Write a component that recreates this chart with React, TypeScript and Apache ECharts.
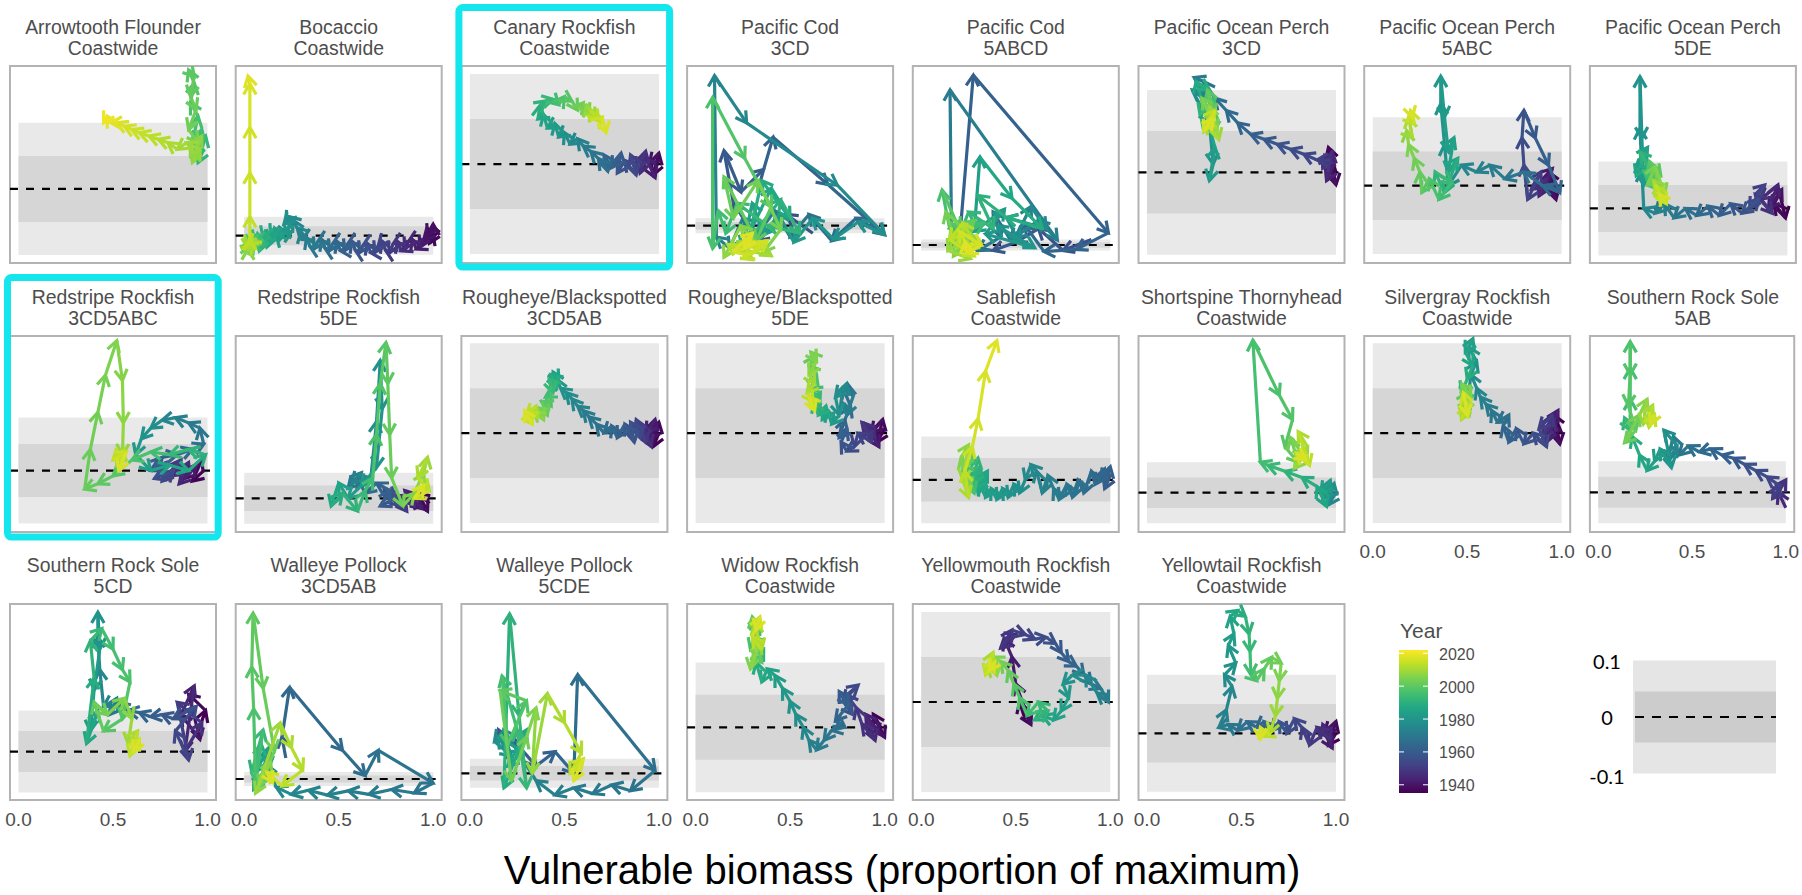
import React, { useEffect, useRef } from "react";
import * as echarts from "echarts";

// [year, vulnerable biomass (proportion of maximum), y-index]
type Obs = [number, number, number];

const arrowtoothCoastwide: Obs[] = [
  [1991, 0.98, 0.06], [1992, 0.95, 0.04], [1993, 0.99, 0.08], [1994, 0.93, 0.05], [1995, 0.97, 0.09],
  [1996, 0.92, 0.07], [1997, 0.95, 0.11], [1998, 0.91, 0.13], [1999, 0.93, 0.16], [2000, 0.9, 0.18],
  [2001, 0.93, 0.17], [2002, 0.91, 0.14], [2003, 0.94, 0.12], [2004, 0.9, 0.09], [2005, 0.95, 0.07],
  [2006, 0.91, 0.05], [2007, 0.97, 0.08], [2008, 0.92, 0.04], [2009, 0.96, 0.06], [2010, 0.89, 0.07],
  [2011, 0.84, 0.06], [2012, 0.79, 0.07], [2013, 0.74, 0.075], [2014, 0.69, 0.08], [2015, 0.64, 0.085],
  [2016, 0.6, 0.09], [2017, 0.56, 0.095], [2018, 0.52, 0.1], [2019, 0.49, 0.1], [2020, 0.47, 0.11],
  [2021, 0.45, 0.1],
];

const bocaccioCoastwide: Obs[] = [
  [1935, 1.0, 0.03], [1936, 0.99, -0.02], [1937, 0.98, -0.04], [1938, 1.0, 0.01], [1939, 1.0, 0.06],
  [1940, 0.97, 0.0], [1941, 0.95, -0.02], [1942, 0.93, -0.06], [1943, 0.91, -0.07], [1944, 0.89, -0.02],
  [1945, 0.87, -0.03], [1946, 0.85, -0.07], [1947, 0.83, -0.08], [1948, 0.81, -0.03], [1949, 0.79, -0.04],
  [1950, 0.77, -0.09], [1951, 0.75, -0.08], [1952, 0.73, -0.03], [1953, 0.71, -0.05], [1954, 0.69, -0.09],
  [1955, 0.67, -0.09], [1956, 0.65, -0.04], [1957, 0.63, -0.05], [1958, 0.61, -0.09], [1959, 0.59, -0.08],
  [1960, 0.57, -0.03], [1961, 0.55, -0.04], [1962, 0.53, -0.08], [1963, 0.51, -0.08], [1964, 0.49, -0.03],
  [1965, 0.47, -0.04], [1966, 0.45, -0.08], [1967, 0.43, -0.07], [1968, 0.41, -0.02], [1969, 0.39, -0.03],
  [1970, 0.37, -0.07], [1971, 0.35, -0.06], [1972, 0.33, -0.01], [1973, 0.31, -0.02], [1974, 0.3, 0.02],
  [1975, 0.28, 0.04], [1976, 0.26, 0.08], [1977, 0.24, 0.1], [1978, 0.22, 0.07], [1979, 0.21, 0.06],
  [1980, 0.23, 0.01], [1981, 0.25, 0.02], [1982, 0.2, 0.03], [1983, 0.19, -0.02], [1984, 0.17, 0.0],
  [1985, 0.16, 0.04], [1986, 0.14, 0.0], [1987, 0.13, -0.03], [1988, 0.12, -0.06], [1989, 0.11, 0.02],
  [1990, 0.1, -0.01], [1991, 0.09, -0.05], [1992, 0.08, -0.08], [1993, 0.07, 0.01], [1994, 0.06, -0.03],
  [1995, 0.05, -0.06], [1996, 0.05, -0.02], [1997, 0.04, -0.01], [1998, 0.04, -0.05], [1999, 0.03, -0.07],
  [2000, 0.05, -0.04], [2001, 0.06, -0.03], [2002, 0.03, -0.06], [2003, 0.02, -0.08], [2004, 0.03, -0.05],
  [2005, 0.04, -0.04], [2006, 0.02, -0.08], [2007, 0.02, -0.07], [2008, 0.04, -0.03], [2009, 0.03, -0.02],
  [2010, 0.02, -0.06], [2011, 0.02, -0.07], [2012, 0.04, -0.04], [2013, 0.03, -0.05], [2014, 0.03, -0.02],
  [2015, 0.03, 0.1], [2016, 0.03, 0.33], [2017, 0.03, 0.57], [2018, 0.03, 0.8], [2019, 0.02, 0.84],
];

const canaryCoastwide: Obs[] = [
  [1935, 1.0, 0.005], [1937, 0.97, -0.012], [1939, 1.0, 0.012], [1941, 0.95, 0.0], [1943, 0.98, -0.015],
  [1945, 0.93, 0.008], [1947, 0.9, -0.01], [1949, 0.93, 0.014], [1951, 0.88, -0.005], [1953, 0.85, 0.01],
  [1955, 0.88, -0.012], [1957, 0.82, 0.004], [1959, 0.78, -0.01], [1961, 0.8, 0.012], [1963, 0.75, -0.004],
  [1965, 0.71, 0.01], [1967, 0.73, -0.008], [1969, 0.68, 0.006], [1971, 0.64, 0.014], [1973, 0.6, 0.02],
  [1975, 0.57, 0.028], [1977, 0.53, 0.022], [1979, 0.5, 0.035], [1981, 0.47, 0.03], [1983, 0.45, 0.045],
  [1985, 0.41, 0.04], [1987, 0.39, 0.055], [1989, 0.36, 0.05], [1991, 0.37, 0.065], [1993, 0.4, 0.07],
  [1995, 0.44, 0.072], [1997, 0.47, 0.066], [1999, 0.5, 0.075], [2001, 0.54, 0.07], [2003, 0.57, 0.06],
  [2005, 0.6, 0.068], [2007, 0.63, 0.055], [2009, 0.62, 0.065], [2011, 0.66, 0.05], [2013, 0.64, 0.06],
  [2015, 0.68, 0.048], [2017, 0.7, 0.052], [2019, 0.72, 0.035],
];

const pacificCod3CD: Obs[] = [
  [1956, 0.62, -0.1], [1957, 0.48, 0.15], [1958, 0.33, -0.2], [1959, 0.2, 0.3], [1960, 0.15, 1.0],
  [1961, 0.24, 0.45], [1962, 0.36, 0.75], [1963, 0.41, 1.18], [1964, 0.7, 0.55], [1965, 1.0, -0.12],
  [1966, 0.85, 0.1], [1967, 0.72, -0.2], [1968, 0.6, 0.15], [1969, 0.5, -0.15], [1970, 0.42, 0.2],
  [1971, 0.33, -0.1], [1972, 0.25, 0.1], [1973, 0.18, -0.3], [1974, 0.11, -0.15], [1975, 0.1, 2.0],
  [1976, 0.27, 1.37], [1977, 0.75, 0.54], [1978, 1.0, -0.12], [1979, 0.86, 0.05], [1980, 0.73, -0.18],
  [1981, 0.62, 0.1], [1982, 0.52, -0.22], [1983, 0.44, 0.15], [1984, 0.36, -0.12], [1985, 0.3, 0.3],
  [1986, 0.25, -0.28], [1987, 0.4, 0.5], [1988, 0.5, 0.1], [1989, 0.35, 0.6], [1990, 0.28, -0.2],
  [1991, 0.45, 0.35], [1992, 0.55, -0.1], [1993, 0.38, 0.0], [1994, 0.22, 0.3], [1995, 0.16, -0.1],
  [1996, 0.12, 0.2], [1997, 0.09, -0.3], [1998, 0.09, 1.71], [1999, 0.26, 0.9], [2000, 0.4, 0.25],
  [2001, 0.32, -0.2], [2002, 0.15, 0.65], [2003, 0.2, 0.1], [2004, 0.33, 0.6], [2005, 0.45, -0.05],
  [2006, 0.36, -0.35], [2007, 0.24, 0.0], [2008, 0.15, -0.42], [2009, 0.28, -0.2], [2010, 0.4, -0.4],
  [2011, 0.22, -0.3], [2012, 0.3, -0.45], [2013, 0.17, -0.25], [2014, 0.35, -0.3], [2015, 0.25, -0.44],
  [2016, 0.38, -0.2], [2017, 0.2, -0.35], [2018, 0.3, -0.1], [2019, 0.26, -0.3],
];

const pacificCod5ABCD: Obs[] = [
  [1956, 0.9, 0.1], [1957, 0.75, -0.1], [1958, 0.62, 0.3], [1959, 0.5, 0.05], [1960, 0.38, -0.1],
  [1961, 0.2, 0.0], [1962, 0.275, 3.09], [1963, 0.99, 0.22], [1964, 0.82, -0.08], [1965, 0.65, -0.12],
  [1966, 0.55, 0.35], [1967, 0.47, 0.1], [1968, 0.38, 0.6], [1969, 0.42, 0.15], [1970, 0.3, -0.1],
  [1971, 0.16, 0.1], [1972, 0.152, 2.82], [1973, 0.72, 0.09], [1974, 0.62, 0.45], [1975, 0.5, 0.15],
  [1976, 0.58, 0.7], [1977, 0.66, 0.3], [1978, 0.45, 0.5], [1979, 0.52, 0.05], [1980, 0.4, 0.35],
  [1981, 0.6, -0.05], [1982, 0.34, 0.2], [1983, 0.44, 0.65], [1984, 0.28, 0.25], [1987, 0.31, 1.6],
  [1988, 0.48, 0.85], [1989, 0.64, 0.3], [1990, 0.45, 0.5], [1991, 0.3, 0.9], [1992, 0.38, 0.3],
  [1993, 0.25, 0.6], [1994, 0.2, 0.15], [1995, 0.33, 0.4], [1996, 0.15, 0.3], [1999, 0.11, 1.0],
  [2000, 0.2, 0.3], [2001, 0.15, 0.05], [2002, 0.28, 0.45], [2003, 0.2, -0.15], [2004, 0.13, 0.6],
  [2005, 0.25, 0.2], [2006, 0.17, -0.2], [2007, 0.3, 0.1], [2008, 0.21, 0.35], [2009, 0.14, -0.1],
  [2010, 0.26, -0.25], [2011, 0.19, 0.15], [2012, 0.3, -0.05], [2013, 0.22, 0.4], [2014, 0.15, 0.1],
  [2015, 0.28, -0.2], [2016, 0.2, 0.25], [2017, 0.32, 0.0], [2018, 0.24, -0.15], [2019, 0.23, 0.05],
];

const popCD3: Obs[] = [
  [1935, 1.0, 0.0], [1937, 0.96, 0.03], [1939, 1.0, -0.015], [1941, 0.94, 0.02], [1943, 0.99, 0.01],
  [1945, 0.95, -0.01], [1947, 0.98, 0.025], [1949, 0.93, 0.005], [1951, 0.97, 0.015], [1953, 0.9, 0.015],
  [1955, 0.83, 0.022], [1957, 0.76, 0.028], [1959, 0.69, 0.034], [1961, 0.62, 0.04], [1963, 0.55, 0.046],
  [1965, 0.48, 0.06], [1967, 0.42, 0.075], [1969, 0.36, 0.09], [1971, 0.3, 0.11], [1973, 0.25, 0.115],
  [1975, 0.3, 0.09], [1977, 0.24, 0.1], [1979, 0.33, 0.06], [1981, 0.35, 0.01], [1983, 0.33, -0.01],
  [1985, 0.36, 0.03], [1987, 0.3, 0.08], [1989, 0.26, 0.11], [1991, 0.33, 0.1], [1993, 0.28, 0.07],
  [1995, 0.36, 0.09], [1997, 0.3, 0.05], [1999, 0.38, 0.06], [2001, 0.32, 0.1], [2003, 0.35, 0.07],
  [2005, 0.29, 0.09], [2007, 0.37, 0.05], [2009, 0.33, 0.08], [2011, 0.38, 0.04], [2013, 0.31, 0.06],
  [2015, 0.36, 0.075], [2017, 0.3, 0.05], [2019, 0.35, 0.065],
];

const pop5ABC: Obs[] = [
  [1935, 0.98, -0.01], [1937, 0.93, 0.02], [1939, 0.97, -0.02], [1941, 0.9, 0.01], [1943, 0.95, 0.025],
  [1945, 0.88, -0.015], [1947, 0.92, 0.01], [1949, 0.84, -0.005], [1951, 0.89, 0.02], [1953, 0.82, -0.02],
  [1955, 0.8, 0.03], [1957, 0.79, 0.07], [1959, 0.8, 0.11], [1961, 0.86, 0.07], [1963, 0.93, 0.03],
  [1965, 0.99, -0.01], [1967, 0.9, 0.0], [1969, 0.8, 0.02], [1971, 0.7, 0.01], [1973, 0.62, 0.03],
  [1975, 0.55, 0.02], [1977, 0.47, 0.03], [1979, 0.4, 0.0], [1980, 0.38, 0.06], [1981, 0.36, 0.12],
  [1982, 0.36, 0.16], [1983, 0.38, 0.1], [1984, 0.4, 0.05], [1985, 0.43, 0.07], [1987, 0.4, 0.02],
  [1989, 0.45, 0.04], [1991, 0.38, -0.01], [1993, 0.33, 0.02], [1995, 0.42, 0.005], [1997, 0.35, -0.02],
  [1999, 0.3, 0.01], [2001, 0.26, -0.01], [2003, 0.25, 0.02], [2005, 0.22, 0.04], [2007, 0.19, 0.06],
  [2009, 0.18, 0.08], [2011, 0.21, 0.07], [2013, 0.19, 0.1], [2015, 0.22, 0.09], [2017, 0.2, 0.11],
  [2019, 0.21, 0.1],
];

const pop5DE: Obs[] = [
  [1935, 0.96, 0.03], [1937, 0.99, -0.02], [1939, 0.93, 0.01], [1941, 0.97, 0.04], [1943, 0.9, 0.0],
  [1945, 0.95, 0.05], [1947, 0.86, 0.02], [1949, 0.92, -0.01], [1951, 0.83, 0.03], [1953, 0.88, 0.05],
  [1955, 0.8, 0.0], [1957, 0.85, 0.02], [1959, 0.76, -0.01], [1961, 0.7, 0.01], [1963, 0.64, -0.015],
  [1965, 0.58, 0.005], [1967, 0.52, -0.015], [1969, 0.46, 0.0], [1971, 0.4, -0.02], [1973, 0.35, 0.01],
  [1975, 0.3, -0.01], [1977, 0.24, 0.0], [1978, 0.23, 0.08], [1979, 0.22, 0.17], [1980, 0.22, 0.28],
  [1981, 0.23, 0.15], [1982, 0.24, 0.05], [1984, 0.21, 0.1], [1986, 0.26, 0.13], [1988, 0.2, 0.07],
  [1990, 0.28, 0.09], [1992, 0.22, 0.12], [1994, 0.3, 0.06], [1996, 0.24, 0.08], [1998, 0.32, 0.04],
  [2000, 0.27, 0.1], [2002, 0.33, 0.07], [2004, 0.26, 0.05], [2006, 0.3, 0.09], [2008, 0.35, 0.03],
  [2010, 0.29, 0.06], [2012, 0.34, 0.02], [2014, 0.3, 0.05], [2016, 0.36, 0.01], [2018, 0.32, 0.03],
];

const redstripe3CD5ABC: Obs[] = [
  [1935, 0.98, 0.0], [1937, 0.92, -0.02], [1939, 0.97, 0.02], [1941, 0.88, -0.015], [1943, 0.94, 0.01],
  [1945, 0.85, -0.025], [1947, 0.9, 0.015], [1949, 0.8, -0.01], [1951, 0.86, 0.02], [1953, 0.76, -0.02],
  [1955, 0.82, 0.0], [1957, 0.72, -0.015], [1959, 0.78, 0.015], [1961, 0.7, 0.0], [1963, 0.76, 0.025],
  [1965, 0.84, 0.03], [1967, 0.92, 0.04], [1969, 0.98, 0.05], [1971, 0.96, 0.08], [1973, 0.9, 0.09],
  [1975, 0.83, 0.1], [1977, 0.76, 0.095], [1979, 0.7, 0.08], [1981, 0.65, 0.06], [1983, 0.62, 0.03],
  [1985, 0.7, 0.0], [1987, 0.8, 0.01], [1989, 0.9, 0.0], [1991, 0.99, 0.03], [1993, 0.9, 0.04],
  [1995, 0.8, 0.03], [1997, 0.7, 0.035], [1999, 0.6, 0.02], [2000, 0.5, -0.01], [2001, 0.42, -0.025],
  [2002, 0.35, -0.035], [2003, 0.38, 0.04], [2004, 0.42, 0.11], [2005, 0.46, 0.18], [2006, 0.52, 0.245],
  [2007, 0.55, 0.17], [2008, 0.555, 0.09], [2009, 0.55, 0.03], [2011, 0.52, 0.01], [2013, 0.56, 0.04],
  [2015, 0.5, 0.02], [2017, 0.57, 0.035], [2019, 0.53, 0.0],
];

const redstripe5DE: Obs[] = [
  [1935, 0.98, -0.02], [1937, 0.92, 0.02], [1939, 0.97, -0.05], [1941, 0.88, 0.0], [1943, 0.94, -0.04],
  [1945, 0.85, 0.03], [1947, 0.9, -0.03], [1949, 0.8, 0.01], [1951, 0.86, -0.05], [1953, 0.76, 0.02],
  [1955, 0.82, -0.03], [1957, 0.74, 0.04], [1959, 0.8, 0.0], [1961, 0.72, -0.03], [1963, 0.77, 0.03],
  [1965, 0.7, 0.06], [1967, 0.64, 0.02], [1969, 0.6, 0.08], [1971, 0.55, 0.04], [1973, 0.62, 0.1],
  [1975, 0.57, 0.06], [1977, 0.67, 0.08], [1978, 0.7, 0.3], [1979, 0.72, 0.54], [1980, 0.73, 0.35],
  [1981, 0.7, 0.12], [1983, 0.62, 0.05], [1985, 0.55, 0.0], [1987, 0.5, 0.06], [1989, 0.46, -0.03],
  [1991, 0.52, 0.02], [1993, 0.6, -0.05], [1995, 0.64, 0.03], [1997, 0.68, 0.08], [1998, 0.7, 0.25],
  [1999, 0.72, 0.45], [2000, 0.75, 0.61], [2001, 0.76, 0.45], [2002, 0.77, 0.25], [2003, 0.78, 0.08],
  [2005, 0.84, -0.03], [2007, 0.9, 0.02], [2009, 0.95, 0.1], [2011, 0.97, 0.16], [2013, 0.92, 0.08],
  [2015, 0.98, 0.03], [2017, 0.9, 0.0], [2019, 0.95, 0.05],
];

const rougheye3CD5AB: Obs[] = [
  [1935, 1.0, 0.0], [1937, 0.97, -0.015], [1939, 1.0, 0.012], [1941, 0.95, -0.008], [1943, 0.98, 0.015],
  [1945, 0.93, 0.0], [1947, 0.96, -0.015], [1949, 0.91, 0.01], [1951, 0.93, -0.01], [1953, 0.88, 0.015],
  [1955, 0.9, -0.005], [1957, 0.85, 0.012], [1959, 0.87, -0.01], [1961, 0.82, 0.01], [1963, 0.78, -0.005],
  [1965, 0.75, 0.008], [1967, 0.71, 0.0], [1969, 0.67, 0.01], [1971, 0.63, 0.018], [1973, 0.6, 0.025],
  [1975, 0.57, 0.03], [1977, 0.54, 0.038], [1979, 0.51, 0.045], [1981, 0.48, 0.05], [1983, 0.46, 0.06],
  [1985, 0.44, 0.068], [1987, 0.47, 0.058], [1989, 0.43, 0.065], [1991, 0.46, 0.05], [1993, 0.42, 0.06],
  [1995, 0.44, 0.045], [1997, 0.4, 0.04], [1999, 0.43, 0.03], [2001, 0.38, 0.035], [2003, 0.41, 0.02],
  [2005, 0.36, 0.028], [2007, 0.39, 0.015], [2009, 0.34, 0.025], [2011, 0.32, 0.015], [2013, 0.35, 0.03],
  [2015, 0.3, 0.02], [2017, 0.33, 0.01], [2019, 0.29, 0.025],
];

const rougheye5DE: Obs[] = [
  [1935, 1.0, 0.005], [1937, 0.96, -0.01], [1939, 0.99, 0.015], [1941, 0.93, 0.0], [1943, 0.97, -0.015],
  [1945, 0.9, 0.01], [1947, 0.95, -0.005], [1949, 0.88, 0.012], [1951, 0.93, -0.01], [1953, 0.86, 0.0],
  [1955, 0.84, -0.015], [1957, 0.8, -0.02], [1959, 0.77, -0.01], [1961, 0.8, 0.005], [1963, 0.76, -0.005],
  [1965, 0.79, 0.015], [1967, 0.82, 0.03], [1969, 0.78, 0.05], [1971, 0.84, 0.045], [1973, 0.8, 0.02],
  [1975, 0.77, 0.035], [1977, 0.8, 0.055], [1979, 0.74, 0.04], [1981, 0.76, 0.02], [1983, 0.72, 0.01],
  [1985, 0.7, 0.025], [1987, 0.67, 0.015], [1989, 0.69, 0.03], [1991, 0.65, 0.02], [1993, 0.63, 0.035],
  [1995, 0.66, 0.045], [1997, 0.61, 0.05], [1999, 0.64, 0.065], [2001, 0.6, 0.075], [2003, 0.63, 0.085],
  [2005, 0.61, 0.09], [2007, 0.64, 0.08], [2009, 0.6, 0.065], [2011, 0.63, 0.055], [2013, 0.59, 0.045],
  [2015, 0.62, 0.035], [2017, 0.6, 0.04], [2019, 0.63, 0.025],
];

const sablefishCoastwide: Obs[] = [
  [1960, 1.0, 0.01], [1961, 0.97, -0.02], [1962, 1.0, 0.03], [1963, 0.95, 0.0], [1964, 0.97, 0.025],
  [1965, 0.92, -0.01], [1966, 0.9, 0.02], [1967, 0.86, -0.03], [1968, 0.83, 0.0], [1969, 0.8, -0.04],
  [1970, 0.77, -0.01], [1971, 0.73, -0.045], [1972, 0.7, -0.02], [1973, 0.67, 0.01], [1974, 0.64, -0.03],
  [1975, 0.61, 0.02], [1976, 0.58, 0.035], [1977, 0.55, 0.0], [1978, 0.52, -0.03], [1979, 0.49, -0.01],
  [1980, 0.46, -0.04], [1981, 0.43, -0.02], [1982, 0.4, -0.045], [1983, 0.37, -0.02], [1984, 0.34, -0.04],
  [1985, 0.31, -0.01], [1986, 0.35, 0.02], [1987, 0.3, -0.03], [1988, 0.33, 0.01], [1989, 0.28, -0.02],
  [1990, 0.31, 0.03], [1991, 0.27, -0.01], [1993, 0.3, 0.05], [1995, 0.24, 0.02], [1997, 0.28, -0.03],
  [1999, 0.23, 0.04], [2001, 0.27, 0.07], [2003, 0.22, 0.03], [2005, 0.26, -0.02], [2007, 0.21, 0.05],
  [2009, 0.25, 0.08], [2011, 0.22, 0.0], [2013, 0.25, -0.04], [2015, 0.23, 0.02], [2016, 0.27, 0.076],
  [2017, 0.3, 0.14], [2018, 0.34, 0.25], [2019, 0.4, 0.32],
];

const shortspineCoastwide: Obs[] = [
  [1975, 1.0, 0.0], [1977, 0.96, -0.04], [1979, 0.99, 0.03], [1981, 0.93, -0.02], [1983, 0.97, 0.04],
  [1985, 0.92, 0.0], [1987, 0.95, -0.045], [1989, 0.9, 0.02], [1991, 0.82, 0.05], [1993, 0.73, 0.07],
  [1995, 0.64, 0.09], [1996, 0.6, 0.1], [1997, 0.56, 0.5], [1998, 0.7, 0.32], [1999, 0.77, 0.24],
  [2001, 0.73, 0.15], [2003, 0.8, 0.1], [2005, 0.76, 0.18], [2007, 0.83, 0.12], [2009, 0.78, 0.08],
  [2011, 0.85, 0.15], [2013, 0.8, 0.2], [2015, 0.86, 0.09], [2017, 0.79, 0.13], [2019, 0.84, 0.11],
];

const silvergrayCoastwide: Obs[] = [
  [1935, 1.0, 0.0], [1937, 0.96, 0.02], [1939, 0.99, -0.012], [1941, 0.94, 0.01], [1943, 0.98, 0.025],
  [1945, 0.92, -0.01], [1947, 0.96, 0.015], [1949, 0.9, -0.005], [1951, 0.95, 0.02], [1953, 0.88, 0.005],
  [1955, 0.92, -0.015], [1957, 0.85, 0.0], [1959, 0.8, -0.012], [1961, 0.76, 0.005], [1963, 0.72, -0.01],
  [1965, 0.69, 0.008], [1967, 0.72, 0.02], [1969, 0.66, 0.012], [1971, 0.63, 0.025], [1973, 0.6, 0.032],
  [1975, 0.57, 0.04], [1977, 0.55, 0.05], [1979, 0.52, 0.065], [1981, 0.55, 0.08], [1983, 0.51, 0.095],
  [1985, 0.53, 0.105], [1987, 0.49, 0.09], [1989, 0.53, 0.075], [1991, 0.5, 0.06], [1993, 0.47, 0.045],
  [1995, 0.52, 0.05], [1997, 0.48, 0.035], [1999, 0.51, 0.02], [2001, 0.46, 0.03], [2003, 0.5, 0.045],
  [2005, 0.47, 0.055], [2007, 0.52, 0.04], [2009, 0.48, 0.025], [2011, 0.51, 0.035], [2013, 0.47, 0.015],
  [2015, 0.5, 0.03], [2017, 0.48, 0.045], [2019, 0.5, 0.02],
];

const southernRockSole5AB: Obs[] = [
  [1945, 1.0, -0.05], [1947, 0.96, 0.0], [1949, 1.0, 0.04], [1951, 0.93, -0.02], [1953, 0.97, 0.02],
  [1955, 0.9, 0.05], [1957, 0.84, 0.07], [1959, 0.78, 0.09], [1961, 0.72, 0.11], [1963, 0.66, 0.12],
  [1965, 0.6, 0.14], [1967, 0.54, 0.13], [1969, 0.48, 0.15], [1971, 0.43, 0.12], [1973, 0.4, 0.18],
  [1975, 0.37, 0.1], [1977, 0.42, 0.15], [1979, 0.35, 0.2], [1981, 0.39, 0.08], [1983, 0.33, 0.14],
  [1985, 0.3, 0.1], [1987, 0.26, 0.07], [1989, 0.22, 0.12], [1991, 0.18, 0.18], [1993, 0.14, 0.24],
  [1995, 0.17, 0.2], [1996, 0.17, 0.3], [1997, 0.17, 0.4], [1998, 0.17, 0.486], [1999, 0.17, 0.38],
  [2000, 0.16, 0.28], [2002, 0.2, 0.2], [2004, 0.14, 0.16], [2006, 0.22, 0.25], [2008, 0.26, 0.3],
  [2010, 0.24, 0.22], [2012, 0.29, 0.28], [2014, 0.27, 0.21], [2016, 0.3, 0.25], [2018, 0.28, 0.22],
];

const southernRockSole5CD: Obs[] = [
  [1935, 0.95, 0.05], [1937, 0.99, 0.1], [1939, 0.9, 0.14], [1941, 0.96, 0.03], [1943, 0.86, 0.09],
  [1945, 0.93, 0.16], [1947, 0.88, 0.0], [1949, 0.97, 0.07], [1951, 0.84, 0.12], [1953, 0.9, -0.02],
  [1955, 0.83, 0.05], [1957, 0.94, 0.11], [1959, 0.82, 0.08], [1961, 0.76, 0.09], [1963, 0.7, 0.085],
  [1965, 0.64, 0.095], [1967, 0.58, 0.1], [1969, 0.53, 0.12], [1971, 0.48, 0.09], [1973, 0.52, 0.13],
  [1975, 0.45, 0.11], [1977, 0.43, 0.2], [1979, 0.42, 0.28], [1980, 0.42, 0.34], [1981, 0.43, 0.25],
  [1983, 0.4, 0.15], [1985, 0.38, 0.05], [1987, 0.42, 0.1], [1989, 0.36, 0.02], [1991, 0.4, 0.18],
  [1993, 0.38, 0.27], [1995, 0.44, 0.3], [1996, 0.5, 0.25], [1997, 0.55, 0.2], [1998, 0.59, 0.17],
  [1999, 0.55, 0.08], [2001, 0.45, 0.05], [2003, 0.4, 0.12], [2005, 0.47, 0.09], [2007, 0.56, 0.13],
  [2009, 0.6, 0.08], [2011, 0.58, 0.02], [2013, 0.63, 0.05], [2015, 0.59, -0.01], [2017, 0.64, 0.03],
  [2019, 0.61, 0.0],
];

const walleyePollock3CD5AB: Obs[] = [
  [1962, 0.22, 0.3], [1964, 0.2, 0.6], [1965, 0.24, 1.31], [1966, 0.52, 0.41], [1967, 0.64, 0.05],
  [1968, 0.71, 0.41], [1969, 1.0, -0.06], [1970, 0.9, -0.2], [1971, 0.78, -0.15], [1972, 0.66, -0.22],
  [1973, 0.55, -0.17], [1974, 0.44, -0.23], [1975, 0.34, -0.16], [1976, 0.25, -0.22], [1977, 0.17, -0.12],
  [1979, 0.12, 0.2], [1981, 0.08, -0.1], [1983, 0.13, 0.45], [1985, 0.06, 0.1], [1987, 0.15, 0.3],
  [1989, 0.05, -0.15], [1991, 0.09, 0.5], [1993, 0.04, 0.1], [1995, 0.1, 0.7], [1997, 0.06, -0.05],
  [1999, 0.05, 1.0], [2000, 0.04, 1.6], [2001, 0.047, 2.37], [2002, 0.1, 1.3], [2003, 0.16, 0.4],
  [2005, 0.08, -0.1], [2007, 0.14, 0.25], [2009, 0.06, -0.2], [2011, 0.19, 0.8], [2012, 0.25, 0.45],
  [2013, 0.31, 0.13], [2015, 0.2, -0.1], [2017, 0.12, 0.1], [2019, 0.15, -0.05],
];

const walleyePollock5CDE: Obs[] = [
  [1956, 0.2, 0.1], [1958, 0.15, 0.3], [1960, 0.25, 0.2], [1962, 0.35, 0.05], [1964, 0.45, 0.15],
  [1966, 0.55, 0.0], [1967, 0.57, 0.68], [1968, 0.98, 0.02], [1969, 0.85, -0.12], [1970, 0.75, -0.08],
  [1971, 0.65, -0.14], [1972, 0.55, -0.1], [1973, 0.45, -0.15], [1974, 0.35, -0.05], [1976, 0.18, 0.3],
  [1978, 0.13, 0.22], [1980, 0.22, 0.12], [1982, 0.15, 0.25], [1984, 0.28, 0.15], [1986, 0.2, 0.05],
  [1988, 0.3, 0.3], [1990, 0.18, -0.1], [1991, 0.21, 1.1], [1992, 0.26, 0.4], [1993, 0.3, -0.1],
  [1995, 0.25, 0.3], [1997, 0.17, 0.67], [1998, 0.2, 0.2], [2000, 0.3, 0.5], [2002, 0.16, 0.57],
  [2003, 0.22, -0.05], [2005, 0.3, 0.25], [2007, 0.35, 0.45], [2009, 0.33, 0.0], [2011, 0.41, 0.55],
  [2012, 0.5, 0.35], [2013, 0.59, 0.14], [2015, 0.53, 0.0], [2017, 0.6, 0.1], [2019, 0.55, -0.05],
];

const widowCoastwide: Obs[] = [
  [1935, 0.98, 0.0], [1937, 0.94, 0.02], [1939, 1.0, -0.015], [1941, 0.92, 0.01], [1943, 0.97, -0.01],
  [1945, 0.9, 0.02], [1947, 0.95, -0.02], [1949, 0.88, 0.005], [1951, 0.85, 0.03], [1953, 0.8, 0.05],
  [1955, 0.86, 0.065], [1957, 0.78, 0.04], [1959, 0.83, 0.02], [1961, 0.76, 0.055], [1963, 0.81, 0.035],
  [1965, 0.74, 0.01], [1967, 0.79, 0.0], [1969, 0.72, -0.005], [1971, 0.68, -0.02], [1973, 0.64, -0.035],
  [1975, 0.6, -0.02], [1977, 0.57, 0.0], [1979, 0.53, 0.02], [1981, 0.5, 0.04], [1983, 0.46, 0.06],
  [1985, 0.42, 0.08], [1987, 0.38, 0.09], [1989, 0.35, 0.07], [1991, 0.32, 0.1], [1993, 0.36, 0.12],
  [1995, 0.3, 0.14], [1997, 0.34, 0.16], [1999, 0.29, 0.12], [2001, 0.35, 0.1], [2003, 0.3, 0.17],
  [2005, 0.33, 0.15], [2007, 0.29, 0.09], [2009, 0.34, 0.13], [2011, 0.31, 0.16], [2013, 0.35, 0.12],
  [2015, 0.3, 0.14], [2017, 0.34, 0.17], [2019, 0.32, 0.15],
];

const yellowmouthCoastwide: Obs[] = [
  [1935, 0.55, -0.02], [1937, 0.52, 0.0], [1939, 0.58, -0.025], [1941, 0.5, 0.02], [1943, 0.48, 0.05],
  [1945, 0.44, 0.07], [1947, 0.5, 0.075], [1949, 0.42, 0.06], [1951, 0.48, 0.08], [1953, 0.55, 0.075],
  [1955, 0.6, 0.07], [1957, 0.66, 0.072], [1959, 0.71, 0.065], [1961, 0.74, 0.055], [1963, 0.78, 0.045],
  [1965, 0.82, 0.04], [1967, 0.86, 0.03], [1969, 0.9, 0.02], [1971, 0.95, 0.015], [1973, 0.99, 0.0],
  [1975, 0.93, 0.01], [1977, 0.87, 0.03], [1979, 0.8, 0.03], [1981, 0.75, 0.02], [1983, 0.78, 0.005],
  [1985, 0.74, -0.01], [1987, 0.7, -0.02], [1989, 0.64, -0.015], [1991, 0.6, -0.02], [1993, 0.67, -0.01],
  [1995, 0.62, 0.0], [1997, 0.56, -0.015], [1999, 0.52, 0.005], [2001, 0.49, 0.02], [2003, 0.46, 0.035],
  [2005, 0.42, 0.045], [2007, 0.38, 0.05], [2009, 0.4, 0.03], [2011, 0.35, 0.04], [2013, 0.38, 0.055],
  [2015, 0.34, 0.03], [2017, 0.39, 0.045], [2019, 0.36, 0.035],
];

const yellowtailCoastwide: Obs[] = [
  [1935, 1.0, 0.0], [1937, 0.96, -0.02], [1939, 1.0, 0.02], [1941, 0.94, 0.0], [1943, 0.98, -0.025],
  [1945, 0.93, 0.015], [1947, 0.97, -0.01], [1949, 0.9, 0.01], [1951, 0.86, -0.02], [1953, 0.82, 0.01],
  [1955, 0.78, 0.025], [1957, 0.74, 0.0], [1959, 0.7, 0.02], [1961, 0.66, 0.005], [1963, 0.62, 0.02],
  [1965, 0.58, 0.01], [1967, 0.53, 0.02], [1969, 0.48, 0.005], [1971, 0.43, 0.015], [1973, 0.38, 0.01],
  [1975, 0.42, 0.04], [1977, 0.45, 0.08], [1979, 0.41, 0.1], [1981, 0.47, 0.12], [1983, 0.43, 0.15],
  [1985, 0.46, 0.17], [1987, 0.44, 0.2], [1989, 0.48, 0.21], [1991, 0.52, 0.2], [1993, 0.54, 0.17],
  [1995, 0.545, 0.14], [1997, 0.55, 0.1], [1999, 0.58, 0.09], [2001, 0.62, 0.11], [2003, 0.66, 0.13],
  [2005, 0.71, 0.12], [2007, 0.7, 0.09], [2009, 0.69, 0.06], [2011, 0.68, 0.03], [2013, 0.65, 0.0],
  [2015, 0.62, -0.005], [2017, 0.6, 0.01], [2019, 0.6, -0.01],
];

const speciesNames = [
  "Arrowtooth Flounder", "Bocaccio", "Canary Rockfish", "Pacific Cod", "Pacific Cod",
  "Pacific Ocean Perch", "Pacific Ocean Perch", "Pacific Ocean Perch", "Redstripe Rockfish",
  "Redstripe Rockfish", "Rougheye/Blackspotted", "Rougheye/Blackspotted", "Sablefish",
  "Shortspine Thornyhead", "Silvergray Rockfish", "Southern Rock Sole", "Southern Rock Sole",
  "Walleye Pollock", "Walleye Pollock", "Widow Rockfish", "Yellowmouth Rockfish", "Yellowtail Rockfish",
];
const stockAreas = [
  "Coastwide", "Coastwide", "Coastwide", "3CD", "5ABCD", "3CD", "5ABC", "5DE", "3CD5ABC", "5DE",
  "3CD5AB", "5DE", "Coastwide", "Coastwide", "Coastwide", "5AB", "5CD", "3CD5AB", "5CDE",
  "Coastwide", "Coastwide", "Coastwide",
];
const tracks: Obs[][] = [
  arrowtoothCoastwide, bocaccioCoastwide, canaryCoastwide, pacificCod3CD, pacificCod5ABCD,
  popCD3, pop5ABC, pop5DE, redstripe3CD5ABC, redstripe5DE, rougheye3CD5AB, rougheye5DE,
  sablefishCoastwide, shortspineCoastwide, silvergrayCoastwide, southernRockSole5AB,
  southernRockSole5CD, walleyePollock3CD5AB, walleyePollock5CDE, widowCoastwide,
  yellowmouthCoastwide, yellowtailCoastwide,
];
const yLower = [-0.112, -0.144, -0.11, -0.497, -0.327, -0.11, -0.113, -0.116, -0.116, -0.132, -0.11,
  -0.11, -0.12, -0.129, -0.11, -0.128, -0.118, -0.3, -0.184, -0.112, -0.109, -0.114];
const yUpper = [0.186, 0.893, 0.109, 2.129, 3.255, 0.129, 0.175, 0.303, 0.254, 0.636, 0.108,
  0.108, 0.331, 0.514, 0.108, 0.504, 0.36, 2.5, 1.168, 0.19, 0.109, 0.221];
const highlighted = [2, 8];
const labelledPanels = [14, 15, 16, 17, 18, 19, 20, 21];
const xTicks = [0, 0.5, 1];
const legendYears = [2020, 2000, 1980, 1960, 1940];
const insetTicks = [0.1, 0, -0.1];
const bandOuter = 0.1;
const bandInner = 0.05;

const VIRIDIS = ["#440154", "#482475", "#414487", "#355f8d", "#2a788e", "#21918c", "#22a884",
  "#44bf70", "#7ad151", "#bddf26", "#fde725"];
const YEAR_MIN = 1935;
const YEAR_MAX = 2022;

function hex(h: string) {
  return [parseInt(h.slice(1, 3), 16), parseInt(h.slice(3, 5), 16), parseInt(h.slice(5, 7), 16)];
}
function viridis(year: number) {
  let t = (year - YEAR_MIN) / (YEAR_MAX - YEAR_MIN);
  t = Math.max(0, Math.min(1, t));
  const s = t * 10;
  const i = Math.min(9, Math.floor(s));
  const f = s - i;
  const a = hex(VIRIDIS[i]);
  const b = hex(VIRIDIS[i + 1]);
  const c = a.map((v, k) => Math.round(v + (b[k] - v) * f));
  return `rgb(${c[0]},${c[1]},${c[2]})`;
}

const FONT = "'Liberation Sans', Arial, Helvetica, sans-serif";
const TEXT_GREY = "#4d4d4d";
const LIGHT_BAND = "#e9e9e9";
const DARK_BAND = "#d6d6d6";
const LW = 3.2;
const HEAD = 12.5;

function buildOption() {
  const colStep = 225.7;
  const rowTops = [66, 336, 604];
  const rowHeights = [197, 196, 196];
  const pw = 206;
  const grid: any[] = [];
  const xAxis: any[] = [];
  const yAxis: any[] = [];
  const series: any[] = [];
  const graphic: any[] = [];

  tracks.forEach((track, i) => {
    const col = i % 8;
    const row = Math.floor(i / 8);
    const left = 10 + col * colStep;
    const top = rowTops[row];
    grid.push({
      left, top, width: pw, height: rowHeights[row], show: true,
      borderColor: "#b3b3b3", borderWidth: 2, backgroundColor: "#ffffff",
    });
    const lab = labelledPanels.includes(i);
    xAxis.push({
      gridIndex: i, type: "value", min: -0.045, max: 1.045,
      axisLine: { show: false }, axisTick: { show: false }, splitLine: { show: false },
      axisLabel: lab
        ? {
            show: true, customValues: xTicks, formatter: (v: number) => v.toFixed(1),
            color: TEXT_GREY, fontSize: 19, fontFamily: FONT, margin: 10,
          }
        : { show: false },
    });
    yAxis.push({
      gridIndex: i, type: "value", min: yLower[i], max: yUpper[i], show: false,
      axisLine: { show: false }, axisTick: { show: false }, splitLine: { show: false },
    });
    // reference bands + dashed zero line
    series.push({
      type: "custom", xAxisIndex: i, yAxisIndex: i, silent: true, z: 1,
      data: [[0, 0]], encode: { x: 0, y: 1 },
      renderItem: (params: any, api: any) => {
        const a = api.coord([0, bandOuter]);
        const b = api.coord([1, -bandOuter]);
        const c = api.coord([0, bandInner]);
        const d = api.coord([1, -bandInner]);
        const z0 = api.coord([0, 0]);
        const cs = params.coordSys;
        return {
          type: "group",
          children: [
            { type: "rect", shape: { x: a[0], y: a[1], width: b[0] - a[0], height: b[1] - a[1] }, style: { fill: LIGHT_BAND } },
            { type: "rect", shape: { x: c[0], y: c[1], width: d[0] - c[0], height: d[1] - c[1] }, style: { fill: DARK_BAND } },
            {
              type: "line",
              shape: { x1: cs.x, y1: z0[1], x2: cs.x + cs.width, y2: z0[1] },
              style: { stroke: "#000", lineWidth: 2.2, lineDash: [8, 8] },
            },
          ],
        };
      },
    });
    // yearly trajectory arrows
    const segs: number[][] = [];
    for (let k = 0; k < track.length - 1; k++) {
      segs.push([track[k][1], track[k][2], track[k + 1][1], track[k + 1][2], track[k][0]]);
    }
    series.push({
      type: "custom", xAxisIndex: i, yAxisIndex: i, silent: true, z: 3, clip: true,
      data: segs, encode: { x: [0, 2], y: [1, 3] },
      renderItem: (params: any, api: any) => {
        const p0 = api.coord([api.value(0), api.value(1)]);
        const p1 = api.coord([api.value(2), api.value(3)]);
        const col = viridis(api.value(4));
        const dx = p1[0] - p0[0];
        const dy = p1[1] - p0[1];
        const len = Math.hypot(dx, dy);
        const children: any[] = [
          { type: "line", shape: { x1: p0[0], y1: p0[1], x2: p1[0], y2: p1[1] }, style: { stroke: col, lineWidth: LW } },
        ];
        if (len > 0.5) {
          const bx = -dx / len;
          const by = -dy / len;
          const ang = Math.PI / 6;
          const cs = Math.cos(ang);
          const sn = Math.sin(ang);
          const h1 = [p1[0] + HEAD * (bx * cs - by * sn), p1[1] + HEAD * (bx * sn + by * cs)];
          const h2 = [p1[0] + HEAD * (bx * cs + by * sn), p1[1] + HEAD * (-bx * sn + by * cs)];
          children.push({
            type: "polyline", shape: { points: [h1, p1, h2] },
            style: { stroke: col, lineWidth: LW, fill: null },
          });
        }
        return { type: "group", children };
      },
    });
    const cx = left + pw / 2;
    graphic.push({
      type: "text", x: cx, y: top - 39, silent: true,
      style: { text: speciesNames[i], font: `19.4px ${FONT}`, fill: TEXT_GREY, textAlign: "center", textVerticalAlign: "middle", align: "center", verticalAlign: "middle" },
    });
    graphic.push({
      type: "text", x: cx, y: top - 18, silent: true,
      style: { text: stockAreas[i], font: `19.4px ${FONT}`, fill: TEXT_GREY, textAlign: "center", textVerticalAlign: "middle", align: "center", verticalAlign: "middle" },
    });
  });

  // highlight boxes
  highlighted.forEach((i) => {
    const col = i % 8;
    const row = Math.floor(i / 8);
    const left = 10 + col * colStep;
    const top = rowTops[row];
    graphic.push({
      type: "rect", z: 100, silent: true,
      shape: { x: left - 2.5, y: top - 58.5, width: 210.7, height: 259.6, r: 4 },
      style: { fill: "none", stroke: "#14e6ee", lineWidth: 7 },
    });
  });

  // x-axis title
  graphic.push({
    type: "text", x: 902, y: 870, silent: true,
    style: { text: "Vulnerable biomass (proportion of maximum)", font: `40px ${FONT}`, fill: "#000", textAlign: "center", textVerticalAlign: "middle", align: "center", verticalAlign: "middle" },
  });

  // colour bar legend
  const barX = 1399, barY = 650, barW = 29, barH = 143;
  graphic.push({
    type: "text", x: 1400, y: 630, silent: true,
    style: { text: "Year", font: `21px ${FONT}`, fill: TEXT_GREY, textAlign: "left", textVerticalAlign: "middle", align: "left", verticalAlign: "middle" },
  });
  const stops = VIRIDIS.map((c, k) => ({ offset: k / (VIRIDIS.length - 1), color: VIRIDIS[VIRIDIS.length - 1 - k] }));
  graphic.push({
    type: "rect", silent: true, shape: { x: barX, y: barY, width: barW, height: barH },
    style: { fill: new echarts.graphic.LinearGradient(0, 0, 0, 1, stops) },
  });
  legendYears.forEach((yr) => {
    const yy = barY + ((YEAR_MAX - yr) / (YEAR_MAX - YEAR_MIN)) * barH;
    graphic.push({ type: "line", silent: true, z: 10, shape: { x1: barX, y1: yy, x2: barX + 5, y2: yy }, style: { stroke: "#fff", lineWidth: 1 } });
    graphic.push({ type: "line", silent: true, z: 10, shape: { x1: barX + barW - 5, y1: yy, x2: barX + barW, y2: yy }, style: { stroke: "#fff", lineWidth: 1 } });
    graphic.push({
      type: "text", x: 1439, y: yy + 1, silent: true,
      style: { text: String(yr), font: `16px ${FONT}`, fill: TEXT_GREY, textAlign: "left", textVerticalAlign: "middle", align: "left", verticalAlign: "middle" },
    });
  });

  // inset key for the bands
  const insetZero = 717;
  const insetScale = 565;
  graphic.push({ type: "rect", silent: true, shape: { x: 1633, y: insetZero - bandOuter * insetScale, width: 143, height: 2 * bandOuter * insetScale }, style: { fill: "#e5e5e5" } });
  graphic.push({ type: "rect", silent: true, shape: { x: 1635, y: insetZero - bandInner * 510, width: 141, height: 2 * bandInner * 510 }, style: { fill: "#cccccc" } });
  graphic.push({ type: "line", silent: true, shape: { x1: 1635, y1: insetZero, x2: 1776, y2: insetZero }, style: { stroke: "#000", lineWidth: 2, lineDash: [9, 8] } });
  insetTicks.forEach((v) => {
    graphic.push({
      type: "text", x: 1607, y: insetZero - v * insetScale + (v < 0 ? 2 : 0), silent: true,
      style: { text: String(v), font: `20px Lato, ${FONT}`, fill: "#000", textAlign: "center", textVerticalAlign: "middle", align: "center", verticalAlign: "middle" },
    });
  });

  return { animation: false, backgroundColor: "#ffffff", grid, xAxis, yAxis, series, graphic };
}

export default function App() {
  const ref = useRef<HTMLDivElement>(null);
  useEffect(() => {
    const chart = echarts.init(ref.current as HTMLDivElement, null, { renderer: "svg" });
    chart.setOption(buildOption() as any);
    return () => chart.dispose();
  }, []);
  return (
    <div
      ref={ref}
      style={{ position: "fixed", left: 0, top: 0, width: 1802, height: 895, background: "#fff" }}
    />
  );
}
